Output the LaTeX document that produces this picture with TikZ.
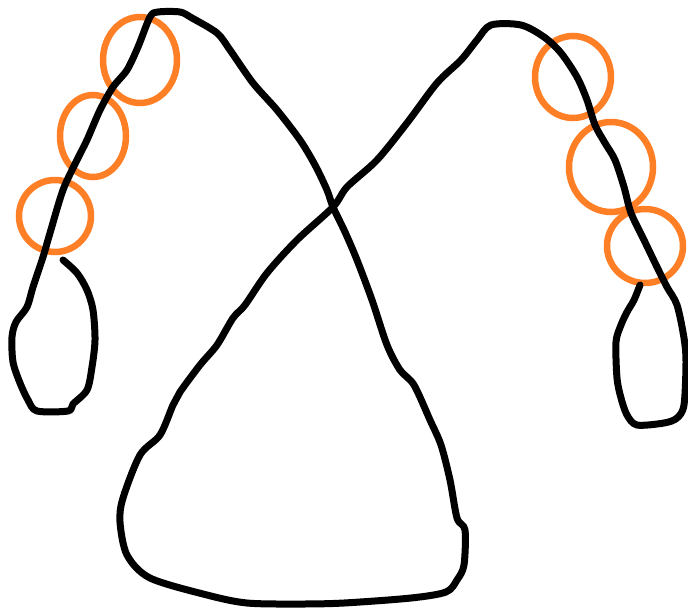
\documentclass[tikz,border=0pt]{standalone}
\usepackage{xcolor}
\definecolor{sketchorange}{HTML}{FF7F27}
\begin{document}
\begin{tikzpicture}[x=1pt,y=-1pt,
  inkline/.style={black,line width=7pt,line cap=round,line join=round},
  ring/.style={sketchorange,line width=6.5pt}]
\useasboundingbox (0,0) rectangle (688,611);
% orange rings
\draw[ring] (140,60) ellipse [x radius=37, y radius=43];
\draw[ring] (93,136) ellipse [x radius=33, y radius=41];
\draw[ring] (55,216) ellipse [x radius=36, y radius=36];
\draw[ring] (573,77) ellipse [x radius=38, y radius=41];
\draw[ring] (611,167) ellipse [x radius=42, y radius=45];
\draw[ring] (645,246) ellipse [x radius=38, y radius=37];
% black curve
\draw[inkline] plot[smooth, tension=0.5] coordinates {
(63,260) (77,273) (87,290) (93,310) (95,340) (92,367) (87,390) (73,404) (68,411)
(37,411) (28,400) (20,383) (13,362) (12,337) (16,322) (27,307) (33,287) (43,257)
(50,233) (63,190) (77,160) (87,140) (100,110) (113,87) (127,70) (138,47) (150,17)
(158,12) (180,12) (192,18) (217,33) (230,50) (253,83) (277,110) (300,140) (315,165)
(327,190) (333,207) (345,232) (357,260) (372,300) (387,345) (400,370) (414,385)
(430,420) (441,445) (450,480) (457,518) (465,530) (464,565) (457,580) (446,592)
(411,598) (344,603) (300,604) (247,603) (207,595) (150,578) (127,555) (120,522)
(123,498) (140,455) (160,435) (173,405) (180,392) (200,365) (217,345) (233,318)
(245,305) (267,273) (297,240) (333,207) (347,187) (377,160) (407,123) (437,83)
(461,60) (477,40) (491,25) (521,25) (544,37) (561,53) (577,77) (587,100) (595,125)
(605,143) (615,160) (624,187) (631,213) (644,240) (657,267) (667,287) (677,305)
(684,338) (686,362) (684,405) (677,418) (664,423) (637,425) (627,415) (621,398)
(617,378) (616,342) (621,325) (627,312) (634,300) (640,285)};
\end{tikzpicture}
\end{document}
